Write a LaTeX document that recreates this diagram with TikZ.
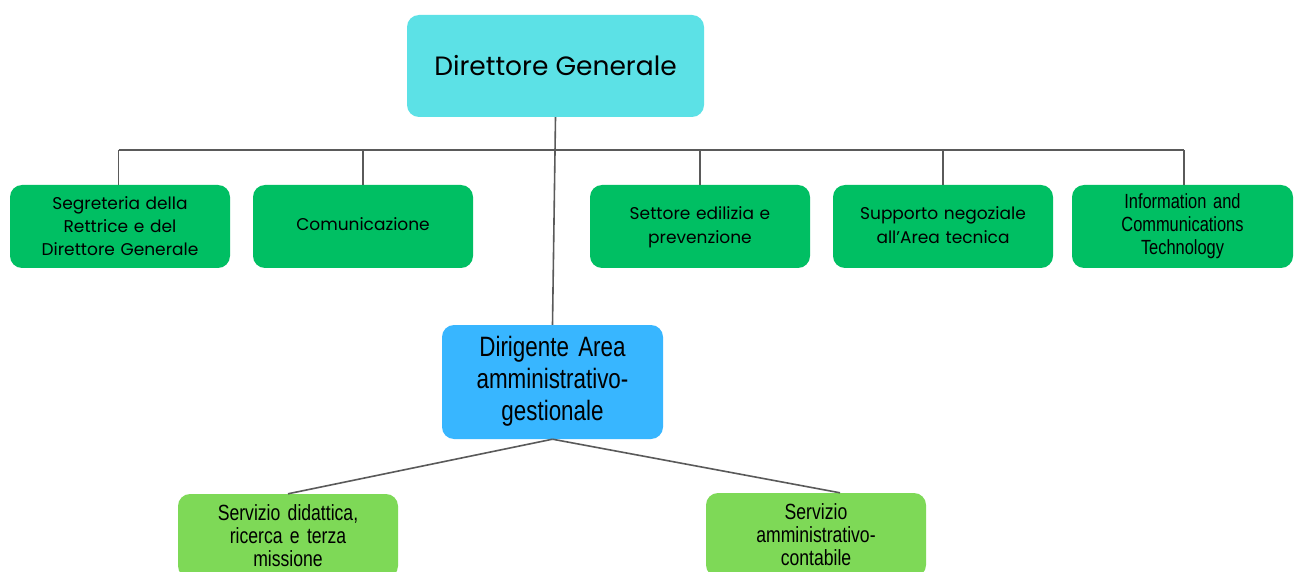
\documentclass[tikz,border=0pt]{standalone}
\usepackage{fontspec}
\setmainfont{Poppins}
\newfontfamily\narrowfont[FakeStretch=0.8,WordSpace=0.75]{Liberation Sans}
\definecolor{cyanbox}{HTML}{5CE1E6}
\definecolor{greenbox}{HTML}{00BF63}
\definecolor{bluebox}{HTML}{38B6FF}
\definecolor{lightgreenbox}{HTML}{7ED957}
\definecolor{linegray}{HTML}{5A5A5A}
\tikzset{
  box/.style={rounded corners=12pt, inner sep=0pt, align=center, text=black},
  topbox/.style={box, fill=greenbox, minimum width=220pt, minimum height=83pt, text width=215pt, font=\fontsize{17pt}{23pt}\selectfont},
  narrowtop/.style={box, fill=greenbox, minimum width=221pt, minimum height=83pt, text width=215pt, font=\narrowfont\fontsize{20.5pt}{23pt}\selectfont},
  lowbox/.style={box, fill=lightgreenbox, minimum width=220pt, minimum height=84pt, text width=215pt, font=\narrowfont\fontsize{22pt}{23pt}\selectfont},
  conn/.style={draw=linegray, line width=1.6pt},
}
\begin{document}
\begin{tikzpicture}[x=1pt,y=-1pt]
\useasboundingbox (0,0) rectangle (1294,572);
\clip (0,0) rectangle (1294,572);
\fill[white] (0,0) rectangle (1294,572);
% nodes
\node[box, fill=cyanbox, minimum width=297pt, minimum height=102pt, font=\fontsize{26.5pt}{30pt}\selectfont] (dg) at (555.5,66) {Direttore Generale};
\node[topbox] (seg) at (120,226.5) {Segreteria della\\Rettrice e del\\Direttore Generale};
\node[topbox] (com) at (363,226.5) {\raisebox{5pt}{Comunicazione}};
\node[topbox] (set) at (700,226.5) {\raisebox{4pt}{\begin{tabular}{@{}c@{}}Settore edilizia e\\[1pt]prevenzione\end{tabular}}};
\node[topbox] (sup) at (943,226.5) {\raisebox{4pt}{\begin{tabular}{@{}c@{}}Supporto negoziale\\[1pt]all’Area tecnica\end{tabular}}};
\node[narrowtop] (ict) at (1182.5,226.5) {Information and\\Communications\\Technology};
\node[box, fill=bluebox, minimum width=221pt, minimum height=114pt, text width=215pt, font=\narrowfont\fontsize{28pt}{32pt}\selectfont] (dir) at (552.5,382) {\raisebox{-3pt}{\begin{tabular}{@{}c@{}}Dirigente Area\\amministrativo-\\gestionale\end{tabular}}};
\node[lowbox] (sd) at (288,536) {Servizio didattica,\\ricerca e terza\\missione};
\node[lowbox] (sa) at (816,535) {Servizio\\amministrativo-\\contabile};
% connectors
\coordinate (bl) at (118.5,150);
\coordinate (br) at (1184,150);
\draw[conn] (bl) -- (br);
\draw[conn] (dg.south) -- (dir.north);
\draw[conn] (bl) -- (bl |- seg.north);
\draw[conn] (com.north |- bl) -- (com.north);
\draw[conn] (set.north |- bl) -- (set.north);
\draw[conn] (sup.north |- bl) -- (sup.north);
\draw[conn] (br) -- (br |- ict.north);
\draw[conn] (dir.south) -- (sd.north);
\draw[conn] (dir.south) -- ([xshift=24pt]sa.north);
\end{tikzpicture}
\end{document}
